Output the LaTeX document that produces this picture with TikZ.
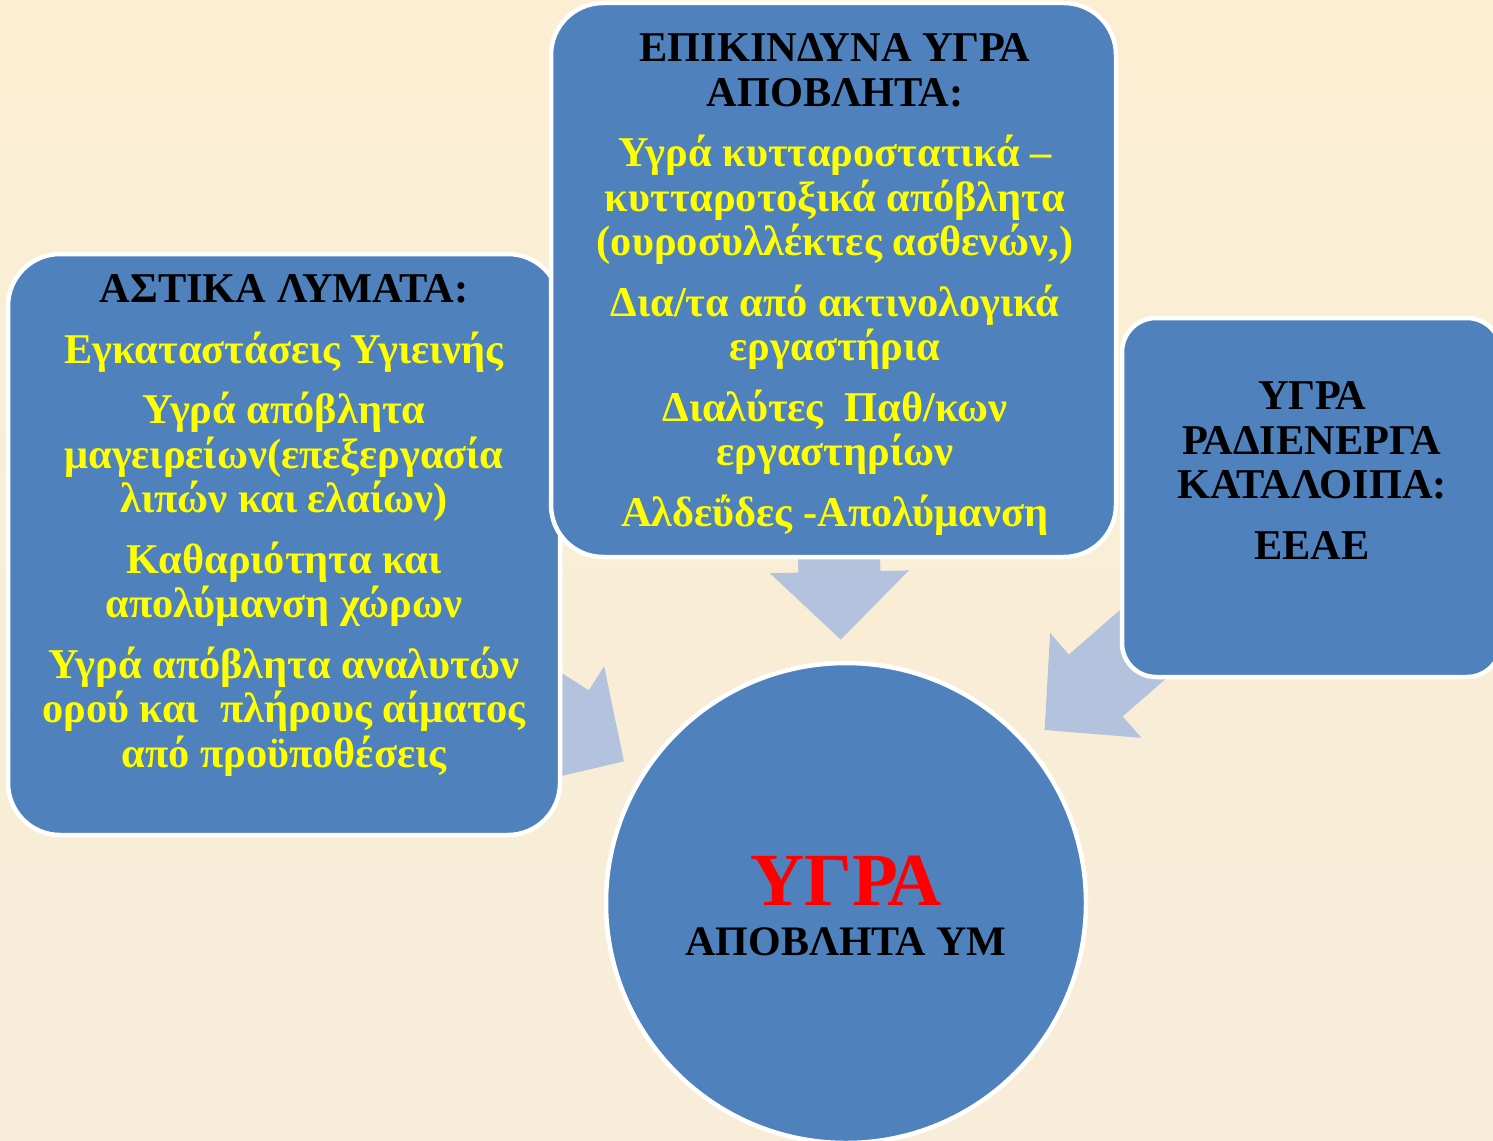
\documentclass[tikz,border=0pt]{standalone}
\usepackage{fontspec}
\setmainfont{Liberation Serif}
\usetikzlibrary{shapes,arrows.meta,positioning,backgrounds}

\definecolor{boxblue}{RGB}{79,129,189}
\definecolor{arrowblue}{RGB}{179,195,222}
\definecolor{creamtop}{RGB}{251,238,211}
\definecolor{creambot}{RGB}{247,237,217}
\definecolor{wasteyellow}{RGB}{255,255,0}

\begin{document}
\begin{tikzpicture}[
    x=1pt,
    y=-1pt,
    box/.style={
        rectangle,
        draw=white,
        line width=4.5pt,
        fill=boxblue,
        rounded corners=52pt,
        inner sep=0pt
    },
    hub/.style={
        circle,
        draw=white,
        line width=4.5pt,
        fill=boxblue,
        inner sep=0pt,
        minimum size=480pt
    },
    boxtext/.style={
        align=center,
        inner sep=0pt,
        anchor=base,
        text=wasteyellow,
        font=\fontsize{42.4}{44.5}\selectfont\bfseries
    },
    flow/.style={
        draw=arrowblue,
        line width=82pt,
        -{Triangle[length=68pt,width=135pt]},
        shorten >=21pt
    }
]
\useasboundingbox (0,0) rectangle (1493,1140);

% Nodes
\node [box, minimum width=552pt, minimum height=581pt] (urban) at (284,544.5) {};
\node [box, minimum width=565pt, minimum height=554pt] (hazard) at (833.5,280) {};
\node [box, rounded corners=34pt, minimum width=379pt, minimum height=359pt] (radio) at (1311.5,497.5) {};
\node [hub] (liquid) at (846,903) {};

% texts, anchored at the baseline of their last line
\node [boxtext] (urbanText) at (284,767) {%
    {\color{black}ΑΣΤΙΚΑ ΛΥΜΑΤΑ:}\\[16pt]
    Εγκαταστάσεις Υγιεινής\\[16pt]
    Υγρά απόβλητα\\
    μαγειρείων(επεξεργασία\\
    λιπών και ελαίων)\\[16pt]
    Καθαριότητα και\\
    απολύμανση χώρων\\[16pt]
    Υγρά απόβλητα αναλυτών\\
    ορού και\ \ πλήρους αίματος\\
    από προϋποθέσεις};
\node [boxtext] (hazardText) at (835,526) {%
    {\color{black}ΕΠΙΚΙΝΔΥΝΑ ΥΓΡΑ}\\
    {\color{black}ΑΠΟΒΛΗΤΑ:}\\[16pt]
    Υγρά κυτταροστατικά –\\
    κυτταροτοξικά απόβλητα\\
    (ουροσυλλέκτες ασθενών,)\\[16pt]
    Δια/τα από ακτινολογικά\\
    εργαστήρια\\[16pt]
    Διαλύτες\ \ Παθ/κων\\
    εργαστηρίων\\[16pt]
    Αλδεΰδες -Απολύμανση};
\node [boxtext, text=black] (radioText) at (1312,559) {%
    ΥΓΡΑ\\
    ΡΑΔΙΕΝΕΡΓΑ\\
    ΚΑΤΑΛΟΙΠΑ:\\[16pt]
    ΕΕΑΕ};
\node [boxtext, text=red, font=\fontsize{75}{75}\selectfont\bfseries] (liquidTitle) at (846,905) {ΥΓΡΑ};
\node [boxtext, text=black, font=\fontsize{42}{42}\selectfont\bfseries] (liquidSub) at (846,955) {ΑΠΟΒΛΗΤΑ ΥΜ};

% Edges
\begin{scope}[on background layer]
\fill [top color=creamtop, bottom color=creambot] (0,0) rectangle (1493,1140);
\draw [flow] (urban.center) -- (liquid);
\draw [flow] (hazard.center) -- (liquid);
\draw [flow] (radio.center) -- (liquid);
\end{scope}

\end{tikzpicture}
\end{document}
